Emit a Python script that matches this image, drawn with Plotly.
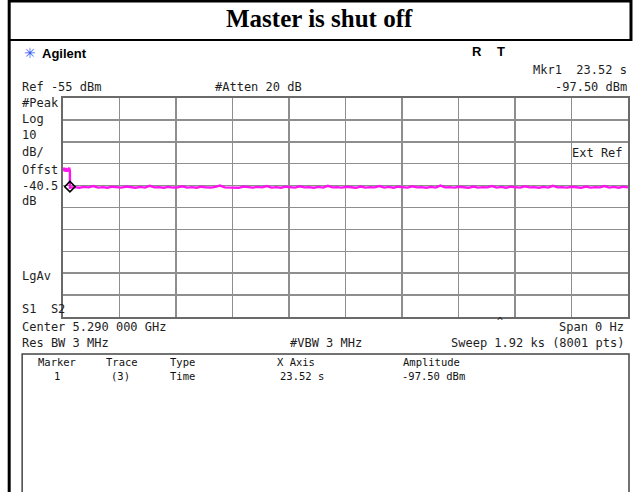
import numpy as np
import plotly.graph_objects as go

# ---------------- data ----------------
title_text = "Master is shut off"
sweep_s = 1920.0          # sweep 1.92 ks
n_div = 10
disp_top = -57.0          # top graticule value (dBm)
db_per_div = 10

pre_times = [0.0, 3.0, 6.0, 9.0, 12.0, 15.0, 18.0, 21.0, 23.4]
pre_vals = [-90.2, -88.9, -90.6, -89.0, -90.7, -89.2, -90.5, -88.8, -90.4]

drop_time = 23.52
noise_vals = [
    -97.9, -97.7, -98.0, -97.6, -97.8, -97.2, -97.9, -97.7, -98.0, -97.5,
    -97.8, -97.9, -97.4, -97.8, -98.0, -97.6, -97.9, -97.1, -97.8, -97.7,
    -98.0, -97.6, -97.9, -97.8, -97.3, -97.9, -97.7, -98.0, -97.5, -97.8,
    -97.9, -97.6, -97.0, -97.8, -97.9, -97.7, -98.0, -97.4, -97.8, -97.9,
    -97.6, -97.8, -97.2, -97.9, -97.7, -98.0, -97.5, -97.8, -97.9, -97.3,
    -97.8, -97.7, -98.0, -97.6, -97.9, -97.1, -97.8, -97.7, -97.9, -97.5,
    -97.8, -98.0, -97.4, -97.9, -97.7, -97.8, -97.2, -97.9, -97.6, -98.0,
    -97.5, -97.8, -97.9, -97.3, -97.8, -97.7, -98.0, -97.6, -97.9, -97.0,
    -97.8, -97.7, -97.9, -97.5, -97.8, -98.0, -97.4, -97.9, -97.7, -97.8,
    -97.2, -97.9, -97.6, -98.0, -97.5, -97.8, -97.9, -97.3, -97.8, -97.7,
    -98.0, -97.6, -97.9, -97.1, -97.8, -97.7, -97.9, -97.5, -97.8, -98.0,
    -97.4, -97.9, -97.7, -97.8, -97.2, -97.9, -97.6, -98.0, -97.5, -97.8,
]

marker_time = 23.52
marker_amp = -97.50

header_texts = ["Marker", "Trace", "Type", "X Axis", "Amplitude"]
row_texts = ["1", "(3)", "Time", "23.52 s", "-97.50 dBm"]

# ---------------- build ----------------
noise_times = np.linspace(drop_time, sweep_s, len(noise_vals))
x_all = list(pre_times) + [drop_time, drop_time] + list(noise_times)
y_all = list(pre_vals) + [pre_vals[-1], noise_vals[0]] + list(noise_vals)

W, H = 634, 492
L, R, T, B = 63, 630, 98, 317


def px(X):
    return (X - L) / (R - L)


def py(Y):
    return (B - Y) / (B - T)


MONO = "DejaVu Sans Mono"
TXT = "#1e1e1e"

fig = go.Figure()
fig.add_trace(go.Scatter(
    x=x_all, y=y_all, mode="lines",
    line=dict(color="#ff14f0", width=2.4), hoverinfo="skip", showlegend=False,
))
fig.add_trace(go.Scatter(
    x=[marker_time], y=[marker_amp], mode="markers",
    marker=dict(symbol="diamond-open", size=8, color="black", line=dict(width=1.6, color="black")),
    hoverinfo="skip", showlegend=False,
))

ann = []


def txt(s, X, Y, anchor="left", size=12, family=MONO, color=TXT, bold=False):
    ann.append(dict(
        text=("<b>%s</b>" % s) if bold else s,
        x=px(X), y=py(Y), xref="paper", yref="paper",
        xanchor=anchor, yanchor="middle", showarrow=False,
        font=dict(family=family, size=size, color=color),
    ))


# title
txt(title_text, 320, 18, anchor="center", size=25, family="Liberation Serif", color="black", bold=True)

# header area
txt("✳", 30, 53, anchor="center", size=14, family="DejaVu Sans", color="#3a5cf5")
txt("Agilent", 40, 53, size=13, family="Liberation Sans", color="black", bold=True)
txt("R", 478, 52, anchor="center", size=13, family="Liberation Sans", color="black", bold=True)
txt("T", 503, 52, anchor="center", size=13, family="Liberation Sans", color="black", bold=True)
txt("Mkr1  23.52 s", 631, 70, anchor="right", size=12)
txt("Ref -55 dBm", 20, 87, size=12)
txt("#Atten 20 dB", 214, 87, size=12)
txt("-97.50 dBm", 631, 87, anchor="right", size=12)

# left labels
for s, Y in [("#Peak", 103), ("Log", 119), ("10", 135), ("dB/", 152),
             ("Offst", 170), ("-40.5", 186), ("dB", 201), ("LgAv", 276), ("S1  S2", 309)]:
    txt(s, 20, Y, size=12)

txt("Ext Ref", 627, 153, anchor="right", size=12)

# bottom annotations
txt("Center 5.290 000 GHz", 20, 327, size=12)
txt("^", 502, 321, anchor="center", size=10)
txt("Span 0 Hz", 628, 327, anchor="right", size=12)
txt("Res BW 3 MHz", 20, 343, size=12)
txt("#VBW 3 MHz", 289, 343, size=12)
txt("Sweep 1.92 ks (8001 pts)", 628, 343, anchor="right", size=12)

# marker table
col_x = [57, 122, 183, 297, 433]
row_x = [57, 121, 183, 303, 435]
for s, X in zip(header_texts, col_x):
    txt(s, X, 362, anchor="center", size=10.5, color="#111111")
for s, X in zip(row_texts, row_x):
    txt(s, X, 376, anchor="center", size=10.5, color="#111111")

shapes = [
    # title box
    dict(type="line", xref="paper", yref="paper", x0=px(8), x1=px(634), y0=py(1), y1=py(1),
         line=dict(color="black", width=3)),
    dict(type="line", xref="paper", yref="paper", x0=px(8), x1=px(634), y0=py(40), y1=py(40),
         line=dict(color="black", width=2)),
    dict(type="line", xref="paper", yref="paper", x0=px(633), x1=px(633), y0=py(0), y1=py(41),
         line=dict(color="black", width=3)),
    dict(type="line", xref="paper", yref="paper", x0=px(9), x1=px(9), y0=py(0), y1=py(492),
         line=dict(color="black", width=3)),
    # marker table box
    dict(type="rect", xref="paper", yref="paper", x0=px(22), x1=px(631), y0=py(354), y1=py(495),
         line=dict(color="#444444", width=1.5)),
]

fig.update_layout(
    width=W, height=H,
    margin=dict(l=L, r=W - R, t=T, b=H - B),
    paper_bgcolor="white", plot_bgcolor="white",
    annotations=ann, shapes=shapes,
    xaxis=dict(range=[0, sweep_s], dtick=sweep_s / n_div, tick0=0, showgrid=True,
               gridcolor="#8e8e8e", gridwidth=1.5, zeroline=False, showticklabels=False,
               ticks="", showline=True, mirror=True, linecolor="#6a6a6a", linewidth=2),
    yaxis=dict(range=[disp_top - n_div * db_per_div, disp_top], dtick=db_per_div, tick0=disp_top,
               showgrid=True, gridcolor="#8e8e8e", gridwidth=1.5, zeroline=False,
               showticklabels=False, ticks="", showline=True, mirror=True,
               linecolor="#6a6a6a", linewidth=2),
    showlegend=False,
)

fig.write_html(
    "out.html",
    config={"displayModeBar": False, "staticPlot": True},
    post_script="document.body.style.margin='0';document.body.style.overflow='hidden';",
)
